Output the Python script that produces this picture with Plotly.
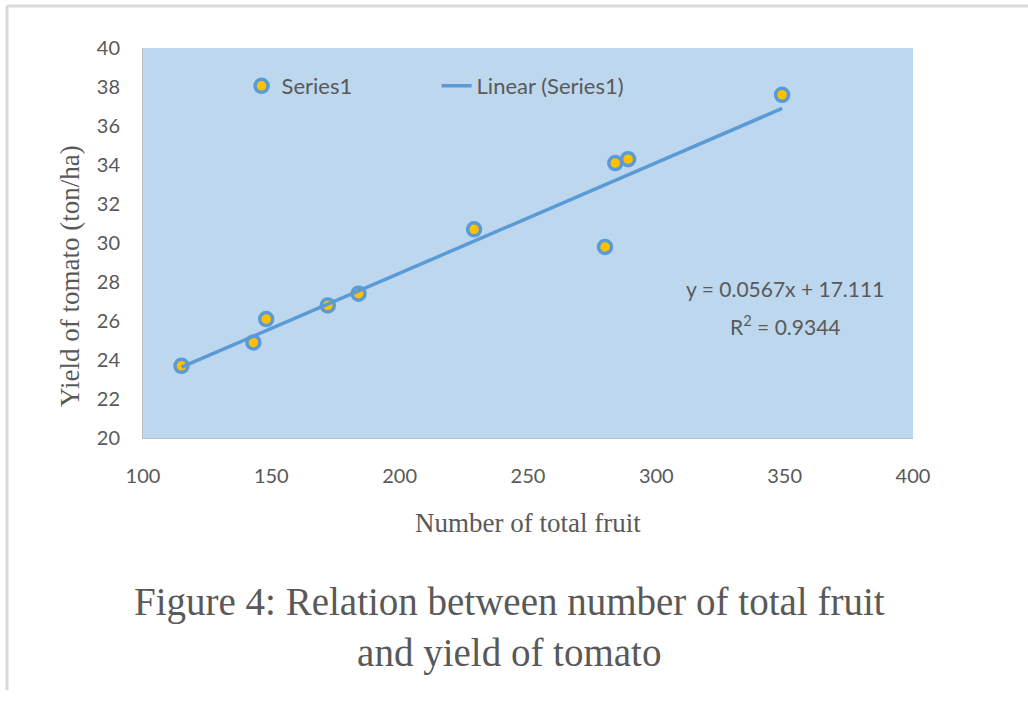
import plotly.graph_objects as go

fruit = [115, 143, 148, 172, 184, 229, 280, 284, 289, 349]
yield_t = [23.7, 24.9, 26.1, 26.8, 27.4, 30.7, 29.8, 34.1, 34.3, 37.6]
slope = 0.0567
intercept = 17.111
r2 = 0.9344

trend_x = [min(fruit), max(fruit)]
trend_y = [slope * v + intercept for v in trend_x]

BLUE = "#5B9BD5"
GOLD = "#FFC000"
TXT = "#595959"
SERIF = "Liberation Serif, Times New Roman, serif"

fig = go.Figure()
fig.add_trace(go.Scatter(
    x=fruit, y=yield_t, mode="markers", name="Series1",
    marker=dict(size=13, color=GOLD, line=dict(color=BLUE, width=3.5)),
))
fig.add_trace(go.Scatter(
    x=trend_x, y=trend_y, mode="lines", name="Linear (Series1)",
    line=dict(color=BLUE, width=3.5),
))

fig.update_layout(
    width=1028, height=707,
    margin=dict(l=143, r=115, t=48, b=269),
    paper_bgcolor="white",
    plot_bgcolor="#BDD7EE",
    font=dict(family="Lato, Open Sans, sans-serif", size=20, color=TXT),
    showlegend=True,
    legend=dict(
        orientation="h", x=0.128, y=(438 - 86) / 390, xanchor="left", yanchor="middle",
        bgcolor="rgba(0,0,0,0)", font=dict(size=22, color=TXT),
        entrywidth=150,
    ),
    xaxis=dict(
        range=[100, 400], tickvals=[100, 150, 200, 250, 300, 350, 400],
        showgrid=False, zeroline=False, showline=True, linecolor="#BFBFBF",
        ticks="", ticklabelstandoff=20,
    ),
    yaxis=dict(
        range=[20, 40], tickvals=list(range(20, 41, 2)),
        showgrid=False, zeroline=False, showline=True, linecolor="#BFBFBF",
        ticks="", ticklabelstandoff=18,
    ),
)

# axis titles
fig.add_annotation(
    xref="paper", yref="paper", x=(528 - 143) / 770, y=-(523 - 438) / 390,
    showarrow=False, xanchor="center", yanchor="middle",
    text="Number of total fruit",
    font=dict(family=SERIF, size=27, color=TXT),
)
fig.add_annotation(
    xref="paper", yref="paper", x=(70 - 143) / 770, y=(438 - 276) / 390,
    showarrow=False, xanchor="center", yanchor="middle", textangle=-90,
    text="Yield of tomato (ton/ha)",
    font=dict(family=SERIF, size=27, color=TXT),
)

# trendline equation
fig.add_annotation(
    xref="x", yref="y", x=(785 - 143) / 770 * 300 + 100, y=40 - (288 - 48) / 19.5,
    showarrow=False, xanchor="center", yanchor="middle",
    text=f"y = {slope}x + {intercept}",
    font=dict(size=21, color=TXT),
)
fig.add_annotation(
    xref="x", yref="y", x=(785 - 143) / 770 * 300 + 100, y=40 - (325 - 48) / 19.5,
    showarrow=False, xanchor="center", yanchor="middle",
    text=f"R<sup>2</sup> = {r2}",
    font=dict(size=21, color=TXT),
)

# caption
fig.add_annotation(
    xref="paper", yref="paper", x=(509 - 143) / 770, y=-(627 - 438) / 390,
    showarrow=False, align="center", xanchor="center", yanchor="middle",
    text="Figure 4: Relation between number of total fruit<br>and yield of tomato",
    font=dict(family=SERIF, size=39, color=TXT),
)

# page frame lines
fig.add_shape(type="line", xref="paper", yref="paper",
              x0=-(143 - 7) / 770, x1=(1028 - 143) / 770,
              y0=1 + (48 - 6) / 390, y1=1 + (48 - 6) / 390,
              line=dict(color="#D9D9D9", width=3))
fig.add_shape(type="line", xref="paper", yref="paper",
              x0=-(143 - 7) / 770, x1=-(143 - 7) / 770,
              y0=1 + (48 - 6) / 390, y1=-(690 - 438) / 390,
              line=dict(color="#D9D9D9", width=3))

fig.write_html("out.html")
